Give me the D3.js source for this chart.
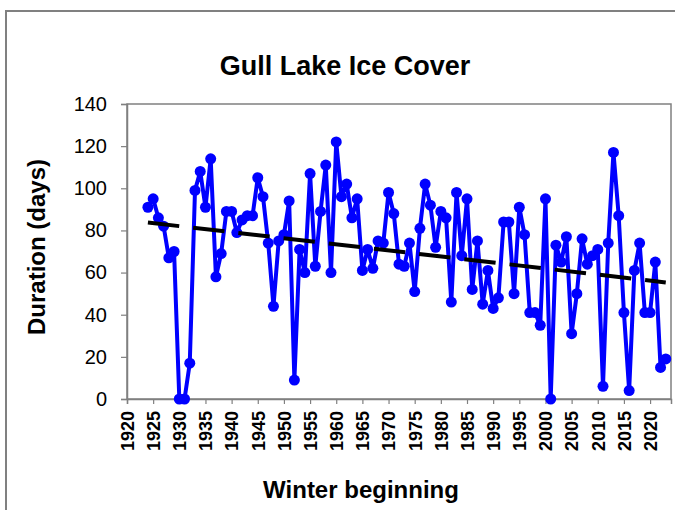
<!DOCTYPE html>
<html>
<head>
<meta charset="utf-8">
<script src="https://cdn.jsdelivr.net/npm/d3@7"></script>
<style>
  body { margin: 0; background: #fff; }
  text { font-family: "Liberation Sans", Arial, sans-serif; }
</style>
</head>
<body>
<div id="chart"></div>
<script>
// winter beginning years and ice cover duration (days)
var years = d3.range(1924, 2024);
var days = [91, 95, 86, 82, 67, 70, 0, 0, 17, 99,
            108, 91, 114, 58, 69, 89, 89, 79, 85, 87,
            87, 105, 96, 74, 44, 75, 78, 94, 9, 71,
            60, 107, 63, 89, 111, 60, 122, 96, 102, 86,
            95, 61, 71, 62, 75, 74, 98, 88, 64, 63,
            74, 51, 81, 102, 92, 72, 89, 86, 46, 98,
            68, 95, 52, 75, 45, 61, 43, 48, 84, 84,
            50, 91, 78, 41, 41, 35, 95, 0, 73, 65,
            77, 31, 50, 76, 64, 68, 71, 6, 74, 117,
            87, 41, 4, 61, 74, 41, 41, 65, 15, 19];
var xTicks = d3.range(1920, 2021, 5);
var yTicks = [0, 20, 40, 60, 80, 100, 120, 140];

var W = 675, H = 510;
// plot area edges (note: "top" is reserved on window, so use pTop etc.)
var pLeft = 127, pRight = 671, pTop = 104, pBottom = 399;

var svg = d3.select("#chart").append("svg")
  .attr("width", W).attr("height", H);

svg.append("rect").attr("width", W).attr("height", H).attr("fill", "#fff");

// outer frame of the chart
svg.append("rect")
  .attr("x", 6).attr("y", 11)
  .attr("width", W + 20).attr("height", H + 20)
  .attr("fill", "none").attr("stroke", "#808080").attr("stroke-width", 2);

var x = d3.scaleLinear().domain([1920, 2024]).range([pLeft, pRight]);
var y = d3.scaleLinear().domain([0, 140]).range([pBottom, pTop]);

// plot area box
svg.append("rect")
  .attr("x", pLeft).attr("y", pTop)
  .attr("width", pRight - pLeft).attr("height", pBottom - pTop)
  .attr("fill", "none").attr("stroke", "#808080").attr("stroke-width", 1.5);

// y axis
var yAxis = svg.append("g")
  .attr("transform", "translate(" + pLeft + ",0)")
  .call(d3.axisLeft(y).tickValues(yTicks).tickSize(6).tickPadding(14));
yAxis.select(".domain").attr("stroke", "#808080").attr("stroke-width", 1.5);
yAxis.selectAll(".tick line").attr("stroke", "#808080").attr("stroke-width", 1.2);
yAxis.selectAll(".tick text")
  .attr("font-size", "20px").attr("fill", "#000")
  .style("font-family", "'Liberation Sans', Arial, sans-serif");

// x axis
var xAxis = svg.append("g")
  .attr("transform", "translate(0," + pBottom + ")")
  .call(d3.axisBottom(x).tickValues(xTicks).tickFormat(d3.format("d")).tickSize(5));
xAxis.select(".domain").attr("stroke", "#808080").attr("stroke-width", 1.5);
xAxis.selectAll(".tick line").attr("stroke", "#808080").attr("stroke-width", 1.2);
xAxis.selectAll(".tick text")
  .attr("font-size", "18px").attr("font-weight", "bold").attr("fill", "#000")
  .style("font-family", "'Liberation Sans', Arial, sans-serif")
  .attr("text-anchor", "end")
  .attr("transform", "rotate(-90)")
  .attr("x", -12).attr("y", 0).attr("dy", "0.35em");

// data series
var pts = years.map(function (yr, i) { return { year: yr, val: days[i] }; });

// linear trend (least squares)
var mx = d3.mean(pts, function (d) { return d.year; });
var my = d3.mean(pts, function (d) { return d.val; });
var sxy = d3.sum(pts, function (d) { return (d.year - mx) * (d.val - my); });
var sxx = d3.sum(pts, function (d) { return (d.year - mx) * (d.year - mx); });
var slope = sxy / sxx, icpt = my - slope * mx;
var y0 = years[0], y1 = years[years.length - 1];

var line = d3.line()
  .x(function (d) { return x(d.year); })
  .y(function (d) { return y(d.val); });

svg.append("path")
  .datum(pts)
  .attr("d", line)
  .attr("fill", "none")
  .attr("stroke", "#0000ff")
  .attr("stroke-width", 4)
  .attr("stroke-linejoin", "round");

svg.selectAll("circle.pt")
  .data(pts)
  .enter().append("circle")
  .attr("class", "pt")
  .attr("cx", function (d) { return x(d.year); })
  .attr("cy", function (d) { return y(d.val); })
  .attr("r", 5.5)
  .attr("fill", "#0000ff");

svg.append("line")
  .attr("x1", x(y0)).attr("y1", y(slope * y0 + icpt))
  .attr("x2", x(y1)).attr("y2", y(slope * y1 + icpt))
  .attr("stroke", "#000")
  .attr("stroke-width", 4)
  .attr("stroke-dasharray", "31.5,14");

// titles
svg.append("text")
  .attr("x", 345).attr("y", 75)
  .attr("text-anchor", "middle")
  .attr("font-size", "27px").attr("font-weight", "bold")
  .text("Gull Lake Ice Cover");

svg.append("text")
  .attr("x", 361).attr("y", 498)
  .attr("text-anchor", "middle")
  .attr("font-size", "24px").attr("font-weight", "bold")
  .text("Winter beginning");

svg.append("text")
  .attr("transform", "translate(45,247) rotate(-90)")
  .attr("text-anchor", "middle")
  .attr("font-size", "24px").attr("font-weight", "bold")
  .text("Duration (days)");
</script>
</body>
</html>
